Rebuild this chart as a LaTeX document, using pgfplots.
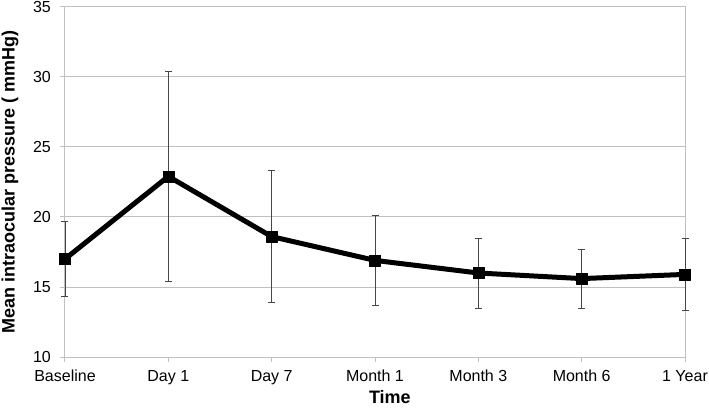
\documentclass[border=0pt]{standalone}
\usepackage{pgfplots}
\pgfplotsset{compat=1.18}
\usepackage{pgfplotstable}
\usepackage{fontspec}
\setmainfont{Liberation Sans}
\definecolor{gridc}{RGB}{192,192,192}
\definecolor{errc}{RGB}{70,70,70}
\pgfplotstableread{
x y e
0 17.0 2.7
1 22.9 7.5
2 18.6 4.7
3 16.9 3.2
4 16.0 2.5
5 15.6 2.1
6 15.9 2.6
}\iopdata
\begin{document}
\begin{tikzpicture}
\begin{axis}[
 at={(0pt,0pt)}, anchor=south west,
 scale only axis, width=620pt, height=350pt,
 xmin=0, xmax=6, ymin=10, ymax=35,
 xtick={0,...,6},
 xticklabels={Baseline,Day 1,Day 7,Month 1,Month 3,Month 6,1 Year},
 ytick={10,15,...,35},
 ymajorgrids, major grid style={gridc, line width=1pt},
 axis line style={gridc, line width=1pt},
 tick style={gridc, line width=1pt},
 tick align=outside, major tick length=5pt,
 xtick pos=bottom, ytick pos=left,
 /pgf/number format/assume math mode=true,
 ticklabel style={font=\fontsize{16}{19}\selectfont, text=black},
 xticklabel style={anchor=base, yshift=-19pt},
 yticklabel style={anchor=east, inner sep=0pt, xshift=-9pt},
 xlabel={Time}, ylabel={Mean intraocular pressure ( mmHg)},
 label style={font=\bfseries\fontsize{18}{21}\selectfont},
 xlabel style={at={(axis description cs:0.524,-0.134)}, anchor=base, inner sep=1pt},
 ylabel style={at={(axis description cs:-0.0887,0.5)}, anchor=center},
 clip=false,
]
\addplot[only marks, mark=none, errc,
  error bars/.cd, y dir=both, y explicit,
  error bar style={errc, line width=0.9pt},
  error mark options={errc, rotate=90, mark size=3.5pt, line width=0.9pt}]
  table[x=x, y=y, y error=e] {\iopdata};
\addplot[black, line width=5pt, line join=round, mark=square*, mark size=5.5pt, mark options={solid, line width=0.5pt}]
  table[x=x, y=y] {\iopdata};
\end{axis}
\pgfresetboundingbox
\path (-65pt,-50pt) rectangle (644pt,357pt);
\end{tikzpicture}
\end{document}
